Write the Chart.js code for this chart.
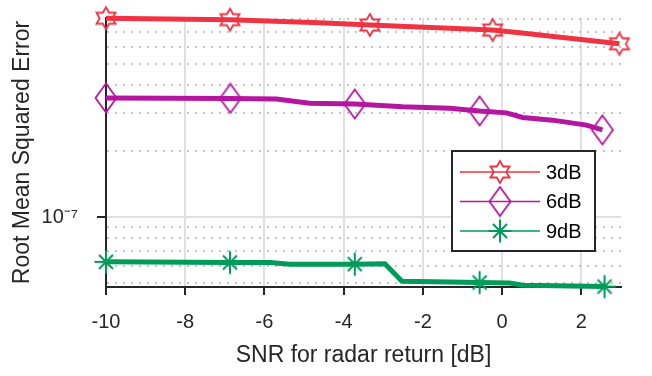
<!DOCTYPE html>
<html>
<head>
<meta charset="utf-8">
<script src="https://cdn.jsdelivr.net/npm/chart.js@4.4.1/dist/chart.umd.min.js"></script>
<style>
  html, body { margin: 0; padding: 0; background: #fff; }
  #wrap { width: 652px; height: 376px; }
</style>
</head>
<body>
<div id="wrap"><canvas id="rmseChart" width="652" height="376"></canvas></div>
<script>
// ejes
const xTicks = [-10, -8, -6, -4, -2, 0, 2];
const yTicks = [5e-8, 6e-8, 7e-8, 8e-8, 9e-8, 1e-7, 2e-7, 3e-7, 4e-7, 5e-7, 6e-7, 7e-7, 8e-7];
const yTickLabels = ['', '', '', '', '', '10\u207B\u2077', '', '', '', '', '', '', ''];

// series
const snr3 = [-10, -6.87, -4.6, -3.34, -0.24, 0.44, 2.96];
const rmse3 = [8.08e-7, 7.96e-7, 7.71e-7, 7.53e-7, 7.14e-7, 6.94e-7, 6.18e-7];
const marks3 = [0, 1, 3, 4, 6];

const snr6 = [-10, -6.86, -5.7, -4.86, -3.72, -2.51, -1.32, -0.57, 0.11, 0.52, 1.27, 2.13, 2.53];
const rmse6 = [3.50e-7, 3.48e-7, 3.46e-7, 3.31e-7, 3.28e-7, 3.19e-7, 3.14e-7, 3.05e-7, 2.99e-7, 2.85e-7, 2.77e-7, 2.63e-7, 2.50e-7];
const marks6 = [0, 1, 4, 7, 12];

const snr9 = [-10, -6.87, -5.86, -5.36, -3.72, -2.96, -2.53, -0.57, 0.19, 0.52, 2.585];
const rmse9 = [6.25e-8, 6.21e-8, 6.21e-8, 6.10e-8, 6.10e-8, 6.12e-8, 5.10e-8, 5.03e-8, 5.01e-8, 4.89e-8, 4.82e-8];
const marks9 = [0, 1, 4, 7, 10];

const labels = ['3dB', '6dB', '9dB'];
const colores = ['#EF3342', '#B5169F', '#009A5B'];

// marcadores dibujados en canvas pequeños
function hexagram(color) {
    const c = document.createElement('canvas');
    c.width = 26; c.height = 26;
    const g = c.getContext('2d');
    g.strokeStyle = color; g.lineWidth = 1.8; g.lineJoin = 'miter';
    g.beginPath();
    for (let i = 0; i < 12; i++) {
        const r = i % 2 === 0 ? 11 : 11 / Math.sqrt(3);
        const a = -Math.PI / 2 + i * Math.PI / 6;
        const px = 13 + r * Math.cos(a), py = 13 + r * Math.sin(a);
        if (i === 0) g.moveTo(px, py); else g.lineTo(px, py);
    }
    g.closePath();
    g.stroke();
    return c;
}

function diamond(color) {
    const c = document.createElement('canvas');
    c.width = 24; c.height = 32;
    const g = c.getContext('2d');
    g.strokeStyle = color; g.lineWidth = 1.8;
    g.beginPath();
    g.moveTo(12, 1.5); g.lineTo(22.5, 16); g.lineTo(12, 30.5); g.lineTo(1.5, 16);
    g.closePath();
    g.stroke();
    return c;
}

function asterisk(color) {
    const c = document.createElement('canvas');
    c.width = 26; c.height = 26;
    const g = c.getContext('2d');
    g.strokeStyle = color; g.lineWidth = 2;
    g.beginPath();
    g.moveTo(13, 1.5); g.lineTo(13, 24.5);
    g.moveTo(1.5, 13); g.lineTo(24.5, 13);
    g.moveTo(6, 6); g.lineTo(20, 20);
    g.moveTo(20, 6); g.lineTo(6, 20);
    g.stroke();
    return c;
}

const marcadores = [hexagram(colores[0]), diamond(colores[1]), asterisk(colores[2])];

function serie(i, xs, ys, marks) {
    return {
        label: labels[i],
        data: xs.map((x, k) => ({ x: x, y: ys[k] })),
        borderColor: colores[i],
        backgroundColor: colores[i],
        borderWidth: 5,
        tension: 0,
        clip: false,
        pointStyle: marcadores[i],
        pointRadius: xs.map((x, k) => marks.includes(k) ? 10 : 0),
        pointHoverRadius: 0
    };
}

// leyenda dentro del area, como en la figura
const leyendaPlugin = {
    id: 'leyenda',
    afterDraw(chart) {
        const ctx = chart.ctx;
        const area = chart.chartArea;
        const bx = area.right - 169, by = area.top + 133, bw = 143, bh = 100;
        ctx.save();
        ctx.fillStyle = '#fff';
        ctx.fillRect(bx, by, bw, bh);
        ctx.strokeStyle = '#262626';
        ctx.lineWidth = 2;
        ctx.strokeRect(bx, by, bw, bh);
        ctx.font = '20px "Liberation Sans", Arial, sans-serif';
        ctx.textBaseline = 'middle';
        labels.forEach((lab, i) => {
            const y = by + 21 + i * 29.5;
            ctx.strokeStyle = colores[i];
            ctx.lineWidth = 1.5;
            ctx.beginPath();
            ctx.moveTo(bx + 8, y);
            ctx.lineTo(bx + 88, y);
            ctx.stroke();
            const m = marcadores[i];
            ctx.drawImage(m, bx + 48 - m.width / 2, y - m.height / 2);
            ctx.fillStyle = '#000';
            ctx.fillText(lab, bx + 94, y + 1);
        });
        ctx.restore();
    }
};

Chart.defaults.font.family = '"Liberation Sans", Arial, sans-serif';
Chart.defaults.color = '#262626';

const ctx = document.getElementById('rmseChart').getContext('2d');
const rmseChart = new Chart(ctx, {
    type: 'line',
    data: {
        datasets: [
            serie(0, snr3, rmse3, marks3),
            serie(1, snr6, rmse6, marks6),
            serie(2, snr9, rmse9, marks9)
        ]
    },
    options: {
        responsive: false,
        animation: false,
        devicePixelRatio: 1,
        layout: { padding: { top: 18, right: 31, left: 0, bottom: 0 } },
        plugins: {
            legend: { display: false },
            tooltip: { enabled: false }
        },
        scales: {
            x: {
                type: 'linear',
                min: -10,
                max: 3,
                afterBuildTicks: (scale) => { scale.ticks = xTicks.map(v => ({ value: v })); },
                afterFit: (scale) => {
                    scale.height = 89;
                    scale.paddingLeft = 0;
                    scale.paddingRight = 0;
                },
                ticks: {
                    font: { size: 20 },
                    padding: 15,
                    maxRotation: 0,
                    callback: (v) => String(v)
                },
                grid: {
                    color: '#e0e0e0',
                    lineWidth: 2,
                    tickColor: '#262626',
                    tickLength: 8,
                    tickWidth: 2
                },
                border: { color: '#262626', width: 2 },
                title: {
                    display: true,
                    text: 'SNR for radar return [dB]',
                    font: { size: 23 },
                    padding: { top: 0, bottom: 7 }
                }
            },
            y: {
                type: 'logarithmic',
                min: 4.8e-8,
                max: 8.1e-7,
                afterBuildTicks: (scale) => { scale.ticks = yTicks.map(v => ({ value: v })); },
                afterFit: (scale) => {
                    scale.width = 106;
                    scale.paddingTop = 0;
                    scale.paddingBottom = 0;
                },
                ticks: {
                    font: { size: 20 },
                    padding: 19,
                    autoSkip: false,
                    callback: (v, i) => yTickLabels[i]
                },
                grid: {
                    color: (c) => (c.tick && yTickLabels[c.index] !== '') ? '#e0e0e0' : '#c4c4c4',
                    lineWidth: 2,
                    tickColor: (c) => (c.tick && yTickLabels[c.index] !== '') ? '#262626' : 'rgba(0,0,0,0)',
                    tickLength: 9,
                    tickWidth: 2
                },
                border: {
                    color: '#262626',
                    width: 2,
                    dash: (c) => (c.tick && yTickLabels[c.index] === '') ? [2, 6] : []
                },
                title: {
                    display: true,
                    text: 'Root Mean Squared Error',
                    font: { size: 23 },
                    padding: { top: 9, bottom: 0 }
                }
            }
        }
    },
    plugins: [leyendaPlugin]
});
</script>
</body>
</html>
